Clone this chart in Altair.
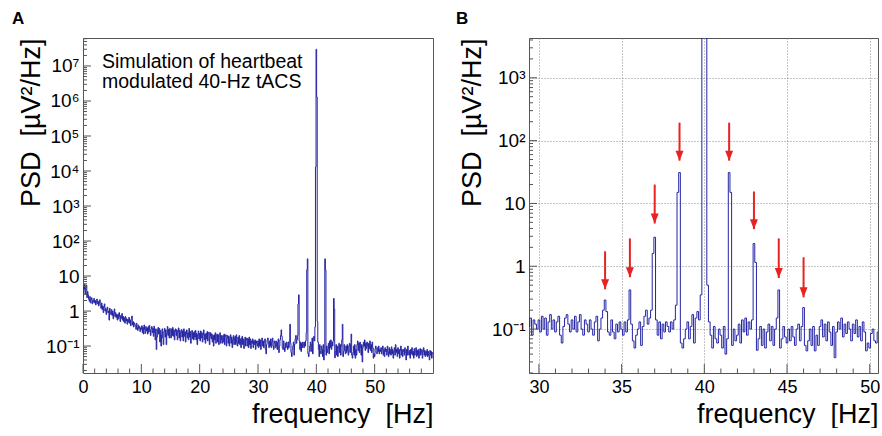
import altair as alt
import pandas as pd

FONT = "Liberation Sans"
BLUE = "#2424a4"
FRAME = "#555555"
RED = "#e82222"
NB = "\u00a0"

# PSD values, 0.1 Hz bins
psd_00_10 = [2.6, 5.2, 4.1, 5.8, 3.0, 4.6, 5.5, 2.4, 3.6, 2.9,
             2.2, 1.9, 2.6, 1.7, 2.1, 2.4, 1.6, 2.0, 1.8, 2.3,
             1.7, 2.0, 1.5, 1.8, 2.2, 1.6, 1.9, 1.4, 1.7, 2.1,
             1.5, 1.2, 1.7, 1.1, 1.4, 0.9, 1.3, 1.6, 1.0, 1.2,
             0.8, 1.1, 1.3, 0.9, 1.0, 0.55, 1.2, 0.95, 0.8, 1.1,
             0.75, 1.0, 0.6, 0.85, 1.15, 0.7, 0.9, 0.65, 0.8, 0.55,
             0.8, 0.6, 0.9, 0.7, 0.5, 0.75, 0.62, 0.85, 0.55, 0.7,
             0.5, 0.65, 0.45, 0.7, 0.52, 0.6, 0.42, 0.58, 0.48, 0.66,
             0.45, 0.55, 0.38, 0.6, 0.72, 0.4, 0.5, 0.35, 0.46, 0.42,
             0.38, 0.3, 0.45, 0.34, 0.28, 0.4, 0.32, 0.36, 0.26, 0.33]
psd_10_20 = [0.3, 0.38, 0.24, 0.34, 0.22, 0.4, 0.3, 0.23, 0.36, 0.27,
             0.33, 0.22, 0.36, 0.25, 0.39, 0.29, 0.2, 0.31, 0.36, 0.24,
             0.32, 0.19, 0.37, 0.24, 0.15, 0.31, 0.08, 0.18, 0.3, 0.34,
             0.22, 0.32, 0.13, 0.28, 0.1, 0.21, 0.31, 0.17, 0.11, 0.26,
             0.32, 0.18, 0.29, 0.11, 0.23, 0.36, 0.2, 0.3, 0.17, 0.32,
             0.27, 0.17, 0.31, 0.2, 0.34, 0.19, 0.29, 0.15, 0.26, 0.31,
             0.2, 0.29, 0.15, 0.25, 0.33, 0.17, 0.28, 0.14, 0.24, 0.3,
             0.18, 0.27, 0.14, 0.31, 0.19, 0.26, 0.13, 0.22, 0.29, 0.17,
             0.24, 0.15, 0.32, 0.18, 0.26, 0.12, 0.22, 0.28, 0.16, 0.24,
             0.15, 0.26, 0.18, 0.28, 0.15, 0.23, 0.11, 0.21, 0.27, 0.16]
psd_20_30 = [0.23, 0.14, 0.27, 0.17, 0.24, 0.13, 0.21, 0.29, 0.15, 0.22,
             0.12, 0.23, 0.16, 0.26, 0.14, 0.21, 0.25, 0.11, 0.19, 0.24,
             0.16, 0.22, 0.13, 0.2, 0.1, 0.21, 0.15, 0.24, 0.12, 0.2,
             0.22, 0.13, 0.21, 0.11, 0.19, 0.24, 0.12, 0.2, 0.15, 0.12,
             0.2, 0.13, 0.22, 0.11, 0.19, 0.21, 0.1, 0.17, 0.2, 0.12,
             0.19, 0.1, 0.16, 0.21, 0.12, 0.18, 0.09, 0.15, 0.2, 0.11,
             0.17, 0.19, 0.11, 0.21, 0.13, 0.1, 0.18, 0.12, 0.2, 0.11,
             0.16, 0.09, 0.17, 0.19, 0.11, 0.16, 0.085, 0.14, 0.18, 0.1,
             0.15, 0.17, 0.1, 0.16, 0.09, 0.18, 0.11, 0.16, 0.085, 0.14,
             0.12, 0.16, 0.09, 0.14, 0.11, 0.15, 0.08, 0.14, 0.12, 0.1]
psd_30_40 = [0.14, 0.09, 0.16, 0.10, 0.15, 0.08, 0.13, 0.17, 0.10, 0.14,
             0.09, 0.13, 0.16, 0.08, 0.06, 0.11, 0.15, 0.17, 0.12, 0.09,
             0.14, 0.10, 0.16, 0.09, 0.13, 0.17, 0.10, 0.08, 0.14, 0.12,
             0.09, 0.14, 0.10, 0.08, 0.13, 0.16, 0.065, 0.10, 0.15, 0.20,
             0.29, 0.19, 0.09, 0.08, 0.14, 0.09, 0.07, 0.12, 0.09, 0.13,
             0.10, 0.08, 0.13, 0.09, 0.14, 0.42, 0.12, 0.065, 0.05, 0.08,
             0.10, 0.13, 0.055, 0.11, 0.16, 0.20, 0.12, 0.15, 0.20, 1.6,
             2.9, 0.14, 0.08, 0.13, 0.07, 0.12, 0.09, 0.13, 0.11, 0.09,
             0.13, 0.10, 0.14, 0.24, 15.0, 31.0, 0.06, 0.05, 0.07, 0.10,
             0.13, 0.07, 0.11, 0.17, 0.06, 0.15, 0.19, 0.14, 0.35, 13000.0]
psd_40_50 = [3.0e7, 1.3e6, 0.5, 0.13, 0.08, 0.05, 0.11, 0.07, 0.06, 0.10,
             0.08, 0.05, 0.11, 0.04, 0.07, 31.0, 15.0, 0.055, 0.10, 0.065,
             0.08, 0.12, 0.06, 0.14, 0.09, 0.15, 0.08, 0.13, 0.10, 0.14,
             2.3, 1.15, 0.046, 0.07, 0.11, 0.055, 0.10, 0.05, 0.09, 0.12,
             0.065, 0.11, 0.055, 0.10, 0.15, 0.42, 0.05, 0.07, 0.11, 0.075,
             0.06, 0.10, 0.065, 0.11, 0.075, 0.055, 0.10, 0.12, 0.065, 0.11,
             0.22, 0.055, 0.045, 0.065, 0.10, 0.055, 0.11, 0.045, 0.08, 0.055,
             0.11, 0.14, 0.075, 0.12, 0.065, 0.13, 0.09, 0.055, 0.11, 0.035,
             0.09, 0.13, 0.10, 0.15, 0.075, 0.12, 0.085, 0.13, 0.10, 0.065,
             0.12, 0.085, 0.14, 0.075, 0.11, 0.065, 0.13, 0.09, 0.045, 0.06]
psd_50_60 = [0.05, 0.085, 0.10, 0.065, 0.06, 0.09, 0.07, 0.10, 0.06, 0.08,
             0.07, 0.09, 0.06, 0.08, 0.10, 0.055, 0.08, 0.05, 0.09, 0.07,
             0.08, 0.055, 0.10, 0.07, 0.05, 0.09, 0.06, 0.08, 0.055, 0.095,
             0.06, 0.08, 0.045, 0.07, 0.09, 0.055, 0.11, 0.065, 0.08, 0.05,
             0.09, 0.06, 0.08, 0.045, 0.075, 0.10, 0.055, 0.08, 0.05, 0.07,
             0.08, 0.055, 0.09, 0.065, 0.04, 0.08, 0.055, 0.10, 0.065, 0.055,
             0.075, 0.045, 0.08, 0.06, 0.09, 0.055, 0.07, 0.045, 0.085, 0.055,
             0.07, 0.09, 0.05, 0.075, 0.055, 0.08, 0.045, 0.07, 0.085, 0.055,
             0.065, 0.08, 0.045, 0.07, 0.09, 0.055, 0.075, 0.05, 0.07, 0.055,
             0.08, 0.05, 0.07, 0.055, 0.04, 0.075, 0.055, 0.07, 0.045, 0.065,
             0.06]

psd = psd_00_10 + psd_10_20 + psd_20_30 + psd_30_40 + psd_40_50 + psd_50_60
freq = [round(0.1 * i, 1) for i in range(len(psd))]
df = pd.DataFrame({"freq": freq, "psd": psd})

# red arrows in panel B
arrow_freq = [34.0, 35.5, 37.0, 38.5, 41.5, 43.0, 44.5, 46.0]
arrow_top = [1.73, 2.78, 20.0, 193.0, 193.0, 15.5, 2.78, 1.39]
arrow_tip = [0.43, 0.67, 4.8, 48.0, 48.0, 3.9, 0.65, 0.32]
arrows = pd.DataFrame({"freq": arrow_freq, "top": arrow_top, "tip": arrow_tip})

# axis ticks / labels
a_x_major = [0, 10, 20, 30, 40, 50]
a_x_minor = [2, 4, 6, 8, 12, 14, 16, 18, 22, 24, 26, 28, 32, 34, 36, 38,
             42, 44, 46, 48, 52, 54, 56, 58]
a_y_major = [0.1, 1, 10, 100, 1e3, 1e4, 1e5, 1e6, 1e7]
a_y_labels = ["10⁻¹", "1", "10", "10²", "10³", "10⁴", "10⁵", "10⁶", "10⁷"]
b_x_major = [30, 35, 40, 45, 50]
b_x_minor = [31, 32, 33, 34, 36, 37, 38, 39, 41, 42, 43, 44, 46, 47, 48, 49]
b_y_major = [0.1, 1, 10, 100, 1e3]
b_y_labels = ["10⁻¹", "1", "10", "10²", "10³"]
log_minor = [m * 10.0 ** k for k in range(-2, 8) for m in range(2, 10)]

X_TITLE = "frequency" + NB + NB + "[Hz]"
Y_TITLE = "PSD" + NB + NB + "[µV²/Hz]"

H = 335


def label_expr(vals, labels):
    parts = [f"datum.value < {v * 3:g} ? '{t}'" for v, t in zip(vals, labels)]
    return " : ".join(parts) + " : ''"


def panel(xdom, ydom, xmaj, xmin, ymaj, ylabels, width, grid, letter,
          letter_dx, title_x, extra):
    xs = alt.Scale(domain=xdom, nice=False, zero=False)
    ys = alt.Scale(type="log", domain=ydom, nice=False)
    data = df[(df.freq >= xdom[0] - 0.3) & (df.freq <= xdom[1] + 0.3)]
    line = alt.Chart(data).mark_line(
        interpolate="step", color=BLUE, strokeWidth=1, clip=True
    ).encode(
        x=alt.X("freq:Q", scale=xs, axis=alt.Axis(
            values=xmaj, format="d", ticks=False, domain=False,
            grid=grid, gridColor="#8a8a8a", gridDash=[1, 2], gridWidth=1,
            labelPadding=5, labelFontSize=18, labelFlush=False,
            title=X_TITLE, titleX=width, titleY=49,
            titleAlign="right", titleBaseline="alphabetic", titleFontSize=27)),
        y=alt.Y("psd:Q", scale=ys, axis=alt.Axis(
            values=ymaj, labelExpr=label_expr(ymaj, ylabels), ticks=False,
            domain=False, grid=grid, gridColor="#8a8a8a", gridDash=[1, 2],
            gridWidth=1, labelPadding=4, labelFontSize=19, labelFlush=False,
            title=Y_TITLE, titleX=title_x, titleY=0, titleAngle=270,
            titleAlign="right", titleBaseline="alphabetic", titleFontSize=27)),
    )
    ymin = [v for v in log_minor if ydom[0] <= v <= ydom[1]]

    def xt(vals, length):
        return alt.Chart(pd.DataFrame({"freq": vals})).mark_rule(
            color=FRAME, strokeWidth=1).encode(
            x=alt.X("freq:Q", scale=xs),
            y=alt.value(H), y2=alt.value(H - length))

    def yt(vals, length):
        return alt.Chart(pd.DataFrame({"psd": vals})).mark_rule(
            color=FRAME, strokeWidth=1).encode(
            y=alt.Y("psd:Q", scale=ys),
            x=alt.value(0), x2=alt.value(length))

    lab = pd.DataFrame({"t": [letter]})
    letter_mark = alt.Chart(lab).mark_text(
        align="left", baseline="alphabetic", fontSize=17, fontWeight="bold",
        font=FONT, color="black").encode(
        x=alt.value(letter_dx), y=alt.value(-14), text="t:N")

    layers = [line, xt(xmaj, 9), xt(xmin, 4.5), yt(ymaj, 8), yt(ymin, 4),
              letter_mark]
    layers += extra(xs, ys)
    return alt.layer(*layers).properties(width=width, height=H)


def extra_a(xs, ys):
    txt = pd.DataFrame({"t": ["Simulation of heartbeat\nmodulated 40-Hz tACS"]})
    note = alt.Chart(txt).mark_text(
        align="left", baseline="alphabetic", fontSize=19.5, font=FONT,
        lineHeight=20, lineBreak="\n", color="black").encode(
        x=alt.value(19), y=alt.value(30), text="t:N")
    # invisible anchor at the page's top-left corner, fixes the layout origin
    anchor = alt.Chart(txt).mark_rule(opacity=0, strokeWidth=1).encode(
        x=alt.value(-82.5), x2=alt.value(-82.5),
        y=alt.value(-37.5), y2=alt.value(-36))
    return [note, anchor]


def extra_b(xs, ys):
    shaft = alt.Chart(arrows).mark_rule(color=RED, strokeWidth=2).encode(
        x=alt.X("freq:Q", scale=xs),
        y=alt.Y("top:Q", scale=ys),
        y2="tip:Q")
    head = alt.Chart(arrows).mark_point(
        shape="M-0.8,-1L0.8,-1L0,1Z", filled=True, size=100, color=RED,
        opacity=1, yOffset=-5).encode(
        x=alt.X("freq:Q", scale=xs),
        y=alt.Y("tip:Q", scale=ys))
    return [shaft, head]


A = panel([0, 60], [0.017, 6.3e7], a_x_major, a_x_minor, a_y_major,
          a_y_labels, 350, False, "A", -71, -44, extra_a)
B = panel([29.4, 50.5], [0.02, 4300], b_x_major, b_x_minor, b_y_major,
          b_y_labels, 349, True, "B", -73, -49, extra_b)

chart = alt.hconcat(A, B, spacing=96, bounds="flush").properties(
    padding=0,
    autosize=alt.AutoSizeParams(type="pad"),
).configure_view(stroke=FRAME, strokeWidth=1).configure_axis(
    labelFont=FONT, titleFont=FONT, labelColor="black", titleColor="black",
    titleFontWeight="normal")

chart.save("out.html", embed_options={"renderer": "svg", "actions": False})
